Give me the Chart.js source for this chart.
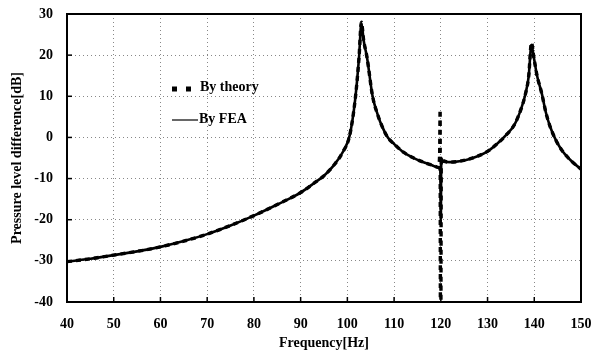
<!DOCTYPE html>
<html lang="en">
<head>
  <meta charset="UTF-8" />
  <title>Pressure level difference</title>
  <script src="https://cdn.jsdelivr.net/npm/chart.js"></script>
  <style>
    html, body { margin: 0; padding: 0; background: #fff; }
    #wrap { width: 596px; height: 354px; }
  </style>
</head>
<body>
  <div id="wrap"><canvas id="chart" width="596" height="354"></canvas></div>

  <script>
    // FEA curve
    const feaFreq = [40, 45, 50, 55, 60, 65, 70, 75, 80, 85, 90, 93, 95, 97, 99, 100.5, 101.7, 102.5, 103.0,
      103.5, 104.2, 105.4, 106.5, 107.5, 108.7, 110, 112, 114, 116, 118, 119.5, 119.9, 120.0, 120.1, 120.5,
      122, 124, 126, 128, 130, 132, 134, 135.8, 137.2, 138.1, 138.8, 139.4, 139.9, 140.6, 141.6, 142.5,
      143.4, 144.6, 145.9, 148, 150];
    const feaLevel = [-30.2, -29.5, -28.6, -27.7, -26.6, -25.2, -23.5, -21.4, -19.0, -16.3, -13.4, -11.0, -9.3, -6.9, -3.6, 0.5, 9.5, 19.5, 27.8,
      23.5, 19.5, 10.0, 5.5, 2.5, -0.1, -1.6, -3.6, -4.9, -5.9, -6.7, -7.4, -8.0, -20.0, -5.0, -5.9,
      -6.0, -5.8, -5.3, -4.5, -3.4, -1.6, 0.6, 3.2, 7.0, 10.5, 14.8, 22.5, 19.5, 15.0, 10.7, 6.0,
      2.6, -0.6, -3.1, -5.8, -7.7];

    // analytical curve
    const thFreq = [40, 45, 50, 55, 60, 65, 70, 75, 80, 85, 90, 93, 95, 97, 99, 100.5, 101.7, 102.5, 103.0,
      103.5, 104.2, 105.4, 106.5, 107.5, 108.7, 110, 112, 114, 116, 118, 119.5, 119.75, 119.85, 119.92, 120.0,
      120.1, 120.5, 122, 124, 126, 128, 130, 132, 134, 135.8, 137.2, 138.1, 138.8, 139.4, 139.9, 140.6,
      141.6, 142.5, 143.4, 144.6, 145.9, 148, 150];
    const thLevel = [-30.2, -29.5, -28.6, -27.7, -26.6, -25.2, -23.5, -21.4, -19.0, -16.3, -13.4, -11.0, -9.3, -6.9, -3.6, 0.5, 9.5, 19.5, 28.0,
      23.5, 19.5, 10.0, 5.5, 2.5, -0.1, -1.6, -3.6, -4.9, -5.9, -6.7, -7.2, -4.0, 6.7, -45, -45,
      -5.0, -5.6, -6.0, -5.8, -5.3, -4.5, -3.4, -1.6, 0.6, 3.2, 7.0, 10.5, 14.8, 23.0, 19.5, 15.0,
      10.7, 6.0, 2.6, -0.6, -3.1, -5.8, -7.7];

    const xTicks = [40, 50, 60, 70, 80, 90, 100, 110, 120, 130, 140, 150];
    const yTicks = [-40, -30, -20, -10, 0, 10, 20, 30];

    const serif = "'Liberation Serif', 'Times New Roman', serif";

    const toPoints = (xs, ys) => xs.map((x, i) => ({ x: x, y: ys[i] }));

    // frame, inward ticks and the in-plot legend
    const framePlugin = {
      id: 'frame',
      afterDatasetsDraw(chart) {
        const { ctx, chartArea: a, scales } = chart;
        ctx.save();
        ctx.strokeStyle = '#000';
        ctx.lineWidth = 2;
        ctx.strokeRect(a.left, a.top, a.right - a.left, a.bottom - a.top);
        ctx.lineWidth = 1.5;
        xTicks.forEach(t => {
          const px = scales.x.getPixelForValue(t);
          ctx.beginPath(); ctx.moveTo(px, a.bottom); ctx.lineTo(px, a.bottom - 5); ctx.stroke();
        });
        yTicks.forEach(t => {
          const py = scales.y.getPixelForValue(t);
          ctx.beginPath(); ctx.moveTo(a.left, py); ctx.lineTo(a.left + 5, py); ctx.stroke();
        });

        // legend
        const lx = a.left + 105, ly = a.top + 75;
        ctx.fillStyle = '#000';
        ctx.fillRect(lx, ly - 2.5, 5, 5);
        ctx.fillRect(lx + 14, ly - 2.5, 5, 5);
        ctx.lineWidth = 1.2;
        ctx.beginPath(); ctx.moveTo(lx, ly + 31); ctx.lineTo(lx + 26, ly + 31); ctx.stroke();
        ctx.font = 'bold 14px ' + serif;
        ctx.textBaseline = 'middle';
        ctx.fillText('By theory', lx + 28, ly - 2);
        ctx.fillText('By FEA', lx + 27, ly + 30);
        ctx.restore();
      }
    };

    new Chart(document.getElementById('chart'), {
      type: 'line',
      data: {
        datasets: [
          {
            label: 'By FEA',
            data: toPoints(feaFreq, feaLevel),
            borderColor: '#000',
            borderWidth: 2.6,
            pointRadius: 0,
            cubicInterpolationMode: 'monotone',
            fill: false
          },
          {
            label: 'By theory',
            data: toPoints(thFreq, thLevel),
            borderColor: '#000',
            borderWidth: 3.4,
            borderDash: [5, 4],
            pointRadius: 0,
            cubicInterpolationMode: 'monotone',
            fill: false
          }
        ]
      },
      options: {
        responsive: false,
        animation: false,
        layout: { padding: { top: 14, right: 15, left: 0, bottom: 0 } },
        plugins: {
          legend: { display: false },
          tooltip: { enabled: false }
        },
        scales: {
          x: {
            type: 'linear',
            min: 40,
            max: 150,
            afterBuildTicks: s => { s.ticks = xTicks.map(v => ({ value: v })); },
            afterFit: s => { s.height = 52; s.paddingLeft = 0; s.paddingRight = 0; },
            grid: { color: '#888', lineWidth: 1, drawTicks: false },
            border: { display: false, dash: [1, 3] },
            ticks: { color: '#000', padding: 14, font: { family: serif, size: 14, weight: 'bold' }, maxRotation: 0 },
            title: { display: true, text: 'Frequency[Hz]', color: '#000', padding: { top: 0, bottom: 2 },
              font: { family: serif, size: 14, weight: 'bold' } }
          },
          y: {
            min: -40,
            max: 30,
            afterBuildTicks: s => { s.ticks = yTicks.map(v => ({ value: v })); },
            afterFit: s => { s.width = 67; s.paddingTop = 0; s.paddingBottom = 0; },
            grid: { color: '#888', lineWidth: 1, drawTicks: false },
            border: { display: false, dash: [1, 3] },
            ticks: { color: '#000', padding: 14, font: { family: serif, size: 14, weight: 'bold' } },
            title: { display: true, text: 'Pressure level difference[dB]', color: '#000', padding: { top: 9, bottom: 0 },
              font: { family: serif, size: 14, weight: 'bold' } }
          }
        }
      },
      plugins: [framePlugin]
    });
  </script>
</body>
</html>
